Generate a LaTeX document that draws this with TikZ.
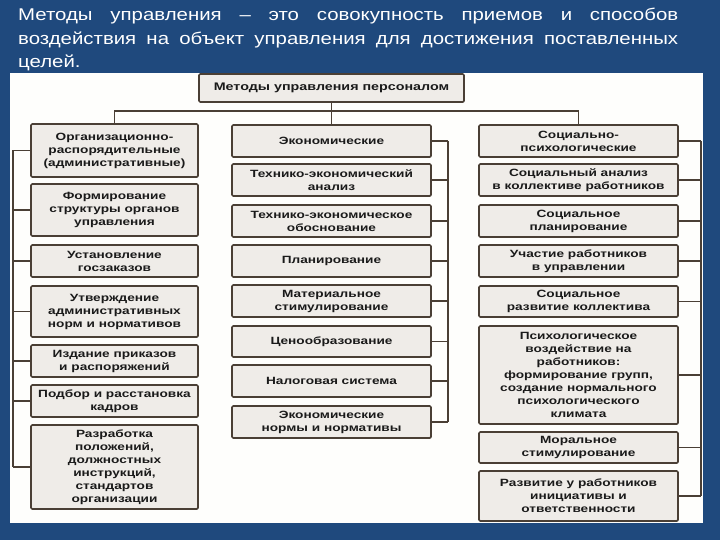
\documentclass[tikz,border=0pt]{standalone}
\usepackage{fontspec}
\setmainfont{Liberation Sans}
\newfontfamily\topfont[FakeStretch=1.2]{Liberation Sans}
\newfontfamily\boxfont[FakeStretch=1.3]{Liberation Sans}
\usetikzlibrary{shadows}
\definecolor{bg}{HTML}{1F497D}
\definecolor{panel}{HTML}{FEFEFC}
\definecolor{boxfill}{HTML}{EFECE8}
\definecolor{boxline}{HTML}{4A3F35}
\definecolor{ink}{HTML}{1A1A1A}
\begin{document}
\begin{tikzpicture}[x=1pt,y=-1pt,
  cbox/.style={draw=boxline, line width=1.6pt, fill=boxfill, rounded corners=1.2pt,
    inner sep=1pt, align=center, text=ink,
    font=\boxfont\bfseries\fontsize{10.5}{13}\selectfont,
    drop shadow={shadow xshift=0.9pt, shadow yshift=-0.9pt, opacity=0.35}},
  lbox/.style={cbox, minimum width=167},
  wbox/.style={cbox, minimum width=199},
  conn/.style={draw=boxline, line width=1.3pt},
  toptext/.style={anchor=base west, inner sep=0, text=white,
    font=\topfont\fontsize{17}{23}\selectfont}]
\useasboundingbox (0,0) rectangle (720,540);
\fill[bg] (0,0) rectangle (720,540);
\fill[panel] (10,73) rectangle (703,523);

\node[toptext] (t1) at (18,21) {\makebox[660pt][s]{Методы управления – это совокупность приемов и способов}};
\node[toptext] (t2) at (18,45) {\makebox[660pt][s]{воздействия на объект управления для достижения поставленных}};
\node[toptext] (t3) at (18,68) {целей.};

\node[cbox, minimum width=265, minimum height=28, font=\boxfont\bfseries\fontsize{11}{13}\selectfont] (top) at (331.5,88) {Методы управления персоналом};

% left column
\node[lbox, minimum height=53] (l1) at (114.5,150.5) {Организационно-\\распорядительные\\(административные)};
\node[lbox, minimum height=52] (l2) at (114.5,210) {Формирование\\структуры органов\\управления};
\node[lbox, minimum height=32] (l3) at (114.5,261) {Установление\\госзаказов};
\node[lbox, minimum height=51] (l4) at (114.5,311.5) {Утверждение\\административных\\норм и нормативов};
\node[lbox, minimum height=32] (l5) at (114.5,361) {Издание приказов\\и распоряжений};
\node[lbox, minimum height=32] (l6) at (114.5,401) {Подбор и расстановка\\кадров};
\node[lbox, minimum height=84] (l7) at (114.5,467) {Разработка\\положений,\\должностных\\инструкций,\\стандартов\\организации};

% middle column
\node[wbox, minimum height=32] (m1) at (331.5,141) {Экономические};
\node[wbox, minimum height=32] (m2) at (331.5,180) {Технико-экономический\\анализ};
\node[wbox, minimum height=32] (m3) at (331.5,221) {Технико-экономическое\\обоснование};
\node[wbox, minimum height=32] (m4) at (331.5,261) {Планирование};
\node[wbox, minimum height=32] (m5) at (331.5,301) {Материальное\\стимулирование};
\node[wbox, minimum height=31] (m6) at (331.5,341.5) {Ценообразование};
\node[wbox, minimum height=32] (m7) at (331.5,381) {Налоговая система};
\node[wbox, minimum height=32] (m8) at (331.5,422) {Экономические\\нормы и нормативы};

% right column
\node[wbox, minimum height=32] (r1) at (578.5,141) {Социально-\\психологические};
\node[wbox, minimum height=32] (r2) at (578.5,180) {Социальный анализ\\в коллективе работников};
\node[wbox, minimum height=32] (r3) at (578.5,221) {Социальное\\планирование};
\node[wbox, minimum height=32] (r4) at (578.5,261) {Участие работников\\в управлении};
\node[wbox, minimum height=31] (r5) at (578.5,301.5) {Социальное\\развитие коллектива};
\node[wbox, minimum height=98] (r6) at (578.5,375) {Психологическое\\воздействие на\\работников:\\формирование групп,\\создание нормального\\психологического\\климата};
\node[wbox, minimum height=31] (r7) at (578.5,447.5) {Моральное\\стимулирование};
\node[wbox, minimum height=50] (r8) at (578.5,496) {Развитие у работников\\инициативы и\\ответственности};

% connectors
\coordinate (hbus) at (0,111);
\coordinate (lbus) at (13,0);
\coordinate (mbus) at (448,0);
\coordinate (rbus) at (701,0);
\draw[conn] (top.south) -- (m1.north);
\draw[conn] (l1.north) -- (l1.north |- hbus) -- (r1.north |- hbus) -- (r1.north);
\draw[conn] (l1.west -| lbus) -- (l7.west -| lbus);
\foreach \i in {1,...,7} \draw[conn] (l\i.west) -- (l\i.west -| lbus);
\draw[conn] (m1.east -| mbus) -- (m8.east -| mbus);
\foreach \i in {1,...,8} \draw[conn] (m\i.east) -- (m\i.east -| mbus);
\draw[conn] (r1.east -| rbus) -- (r8.east -| rbus);
\foreach \i in {1,...,8} \draw[conn] (r\i.east) -- (r\i.east -| rbus);
\end{tikzpicture}
\end{document}
